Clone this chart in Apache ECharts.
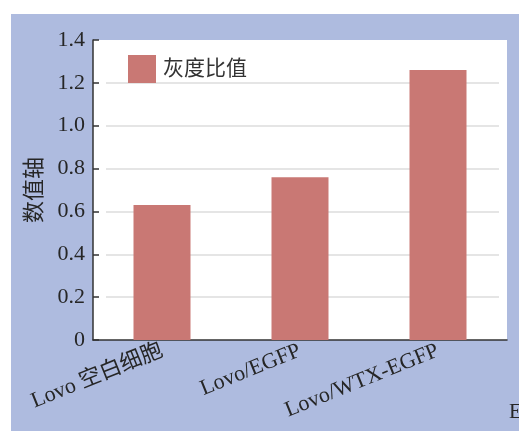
<!DOCTYPE html>
<html>
<head>
<meta charset="utf-8">
<script src="https://cdn.jsdelivr.net/npm/echarts@6/dist/echarts.min.js"></script>
<style>
  html, body { margin: 0; padding: 0; background: #ffffff; }
  #chart { width: 519px; height: 431px; }
</style>
</head>
<body>
<div id="chart"></div>
<script>
// Cell groups and their grey-value ratios
const categories = ['Lovo 空白细胞', 'Lovo/EGFP', 'Lovo/WTX-EGFP'];
const ratioValues = [0.63, 0.76, 1.26];
const seriesName = '灰度比值';
const yAxisName = '数值轴';
const yMin = 0, yMax = 1.4, yStep = 0.2;

const barColor = '#c97874';
const panelColor = '#aebbdf';
const textColor = '#262626';
const fontFamily = '"Liberation Serif", "Noto Sans CJK SC", serif';

const chart = echarts.init(document.getElementById('chart'), null, { renderer: 'canvas' });

chart.setOption({
  backgroundColor: '#ffffff',
  animation: false,
  graphic: [{
    type: 'rect',
    z: -10,
    shape: { x: 11, y: 14, width: 508, height: 417 },
    style: { fill: panelColor }
  }, {
    type: 'text',
    left: 509, top: 402,
    style: { text: 'E', font: '21px "Liberation Serif", serif', fill: textColor }
  }],
  legend: {
    data: [seriesName],
    left: 123, top: 50,
    itemWidth: 28, itemHeight: 28,
    icon: 'rect',
    textStyle: { fontSize: 21, color: '#333333', fontFamily: fontFamily, padding: [0, 0, 0, 2] }
  },
  grid: [
    { left: 93, right: 12, top: 40, bottom: 91, show: true, backgroundColor: '#ffffff', borderWidth: 0 },
    { left: 106, right: 20, top: 40, bottom: 91 }
  ],
  xAxis: [{
    type: 'category',
    gridIndex: 0,
    data: categories,
    axisLine: { lineStyle: { color: '#333333', width: 1.5 } },
    axisTick: { inside: true, length: 7, lineStyle: { color: '#333333', width: 1.5 } },
    axisLabel: { rotate: 22, margin: 10, fontSize: 22, color: textColor, fontFamily: fontFamily, interval: 0 }
  }, {
    type: 'category',
    gridIndex: 1,
    data: categories,
    show: false
  }],
  yAxis: [{
    type: 'value',
    gridIndex: 0,
    min: yMin, max: yMax, interval: yStep,
    name: yAxisName,
    nameLocation: 'middle',
    nameGap: 44,
    nameRotate: 90,
    nameTextStyle: { fontSize: 22, color: textColor, fontFamily: fontFamily },
    axisLine: { show: true, lineStyle: { color: '#333333', width: 1.5 } },
    axisTick: { show: true, inside: true, length: 6, lineStyle: { color: '#333333', width: 1.5 } },
    axisLabel: {
      fontSize: 22, color: textColor, fontFamily: fontFamily, margin: 8,
      formatter: v => (v === 0 ? '0' : v.toFixed(1))
    },
    splitLine: { show: false }
  }, {
    type: 'value',
    gridIndex: 1,
    min: yMin, max: yMax, interval: yStep,
    axisLine: { show: false },
    axisTick: { show: false },
    axisLabel: { show: false },
    splitLine: { show: true, showMinLine: false, showMaxLine: false, lineStyle: { color: '#dcdcdc', width: 1.5 } }
  }],
  series: [{
    name: seriesName,
    type: 'bar',
    xAxisIndex: 0,
    yAxisIndex: 0,
    data: ratioValues,
    barWidth: 57,
    itemStyle: { color: barColor },
    z: 3
  }]
});
</script>
</body>
</html>
